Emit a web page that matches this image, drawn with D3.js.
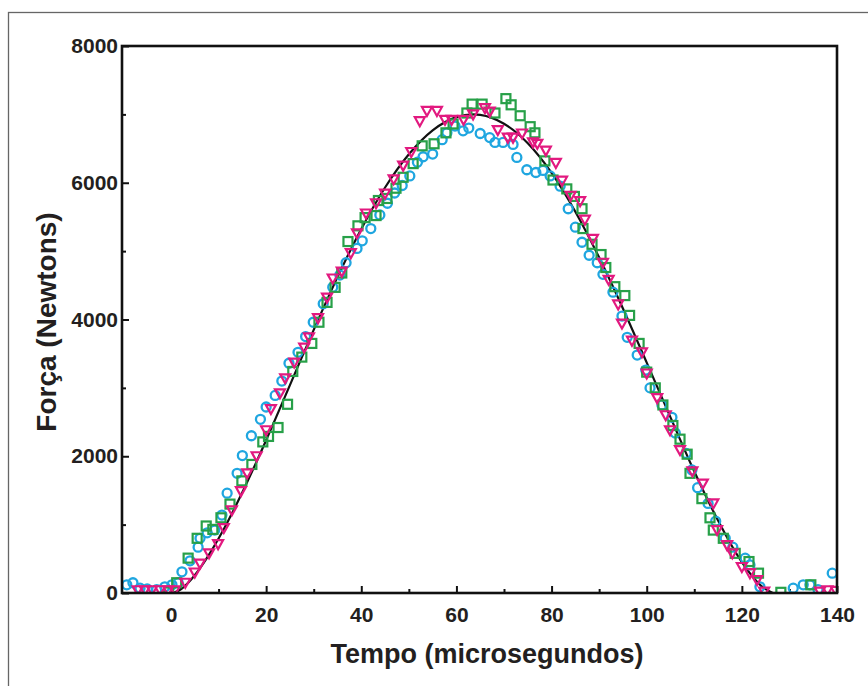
<!DOCTYPE html>
<html>
<head>
<meta charset="utf-8">
<script src="https://cdn.jsdelivr.net/npm/d3@7"></script>
<style>
  body { margin: 0; background: #fff; }
  svg text { font-family: "Liberation Sans", Arial, sans-serif; font-weight: bold; fill: #231f20; }
</style>
</head>
<body>
<svg id="chart"></svg>
<script>
// tick values
const xMajorTicks = [0, 20, 40, 60, 80, 100, 120, 140];
const xMinorTicks = [10, 30, 50, 70, 90, 110, 130];
const yMajorTicks = [0, 2000, 4000, 6000, 8000];
const yMinorTicks = [1000, 3000, 5000, 7000];

// circles (cyan) - [tempo, força]
const seriesCircles = [
  [-9.3, 120], [-8, 150], [-6.5, 70], [-5, 60], [-3, 50], [-1.3, 90], [0.2, 120], [1.5, 150],
  [2.3, 310], [4, 470], [5.7, 670], [6.1, 800], [7.6, 880], [9.2, 920], [10.7, 1140], [11.8, 1460],
  [13.9, 1750], [15, 2010], [16.9, 2300], [18.8, 2540], [20, 2720], [21.9, 2890], [23.3, 3100],
  [24.8, 3360], [26.7, 3520], [28.3, 3750], [29.9, 3960], [32, 4230], [34, 4470], [35.5, 4650],
  [36.8, 4830], [39.1, 5040], [40.2, 5150], [42, 5330], [43.9, 5530], [45.5, 5700], [47, 5850],
  [48.6, 5960], [50.2, 6100], [51.8, 6300], [53, 6380], [55, 6420], [57, 6630], [58, 6730],
  [59.7, 6830], [61.4, 6760], [62.6, 6800], [65, 6720], [67, 6660], [68.1, 6590], [69.8, 6590],
  [71.9, 6560], [72.7, 6370], [74.8, 6190], [76.7, 6150], [78.2, 6180], [79.7, 6100], [81.8, 5950],
  [83.5, 5620], [85, 5350], [86.4, 5130], [87.9, 4940], [89.6, 4830], [90.8, 4660], [92.9, 4400],
  [94.8, 4050], [95.9, 3740], [98, 3480], [99.8, 3260], [100.7, 3000], [103.2, 2750], [105.3, 2570],
  [106, 2340], [108.3, 2040], [109.5, 1800], [110.7, 1540], [112.9, 1310], [114.5, 1050],
  [116.5, 800], [118.1, 670], [120.7, 510], [121.7, 410], [123.8, 90], [130.8, 70], [132.9, 120],
  [134.3, 120], [136, 50], [139, 290]
];

// squares (green)
const seriesSquares = [
  [-0.5, 15], [1.2, 150], [3.6, 510], [5.5, 800], [7.4, 980], [8.8, 930], [10.5, 1100], [12.4, 1300],
  [14.9, 1640], [17, 1880], [19.3, 2210], [20.5, 2290], [22.5, 2420], [24.5, 2760], [25.6, 3240],
  [27.5, 3450], [29.6, 3650], [31.1, 3960], [32.8, 4250], [34.5, 4470], [35.9, 4680], [37.2, 5140],
  [39.3, 5370], [40.8, 5490], [43.1, 5520], [43.6, 5740], [45.4, 5770], [47.3, 5920], [48.8, 6080],
  [50.9, 6280], [52.8, 6540], [55.3, 6570], [57.8, 6730], [59.3, 6860], [62.2, 7020], [63.3, 7150],
  [65.4, 7150], [68.1, 7020], [70.4, 7230], [71.5, 7140], [73.4, 6980], [75.5, 6820], [76.5, 6730],
  [78.6, 6320], [80.3, 6040], [83.2, 5910], [84.8, 5800], [86.4, 5620], [86.6, 5330], [88.5, 5100],
  [90.4, 4950], [91.4, 4760], [93.3, 4480], [95.4, 4350], [96.4, 4060], [98.4, 3650], [100, 3230],
  [101.8, 3000], [103.4, 2750], [105.5, 2450], [107, 2250], [108.5, 2030], [109.1, 1750],
  [111.6, 1380], [113.3, 1100], [114, 920], [116.1, 800], [118.6, 580], [121.5, 460], [123.5, 290],
  [128.2, 10], [134.5, 120]
];

// triangles (magenta)
const seriesTriangles = [
  [-7, 40], [-5.5, 40], [-4, 40], [-2.3, 40], [-0.6, 40], [0.8, 40], [3, 150], [5, 300], [6.1, 430],
  [8, 580], [9.9, 715], [11.1, 950], [12.8, 1210], [14.7, 1490], [16, 1750], [18, 2000], [20, 2380],
  [21, 2690], [22.9, 2920], [24, 3140], [25.9, 3370], [28, 3590], [29, 3740], [30.9, 4020],
  [32.8, 4320], [34, 4600], [35.9, 4700], [37.8, 4970], [39.1, 5260], [41, 5550], [43.1, 5700],
  [45, 5840], [46.8, 6050], [48.8, 6250], [50.5, 6450], [52.3, 6900], [53.8, 7050], [55.9, 7050],
  [57.6, 6920], [59, 6920], [61.5, 6920], [63.5, 7000], [66, 7090], [67, 7040], [68.7, 6770],
  [70.8, 6660], [71.9, 6660], [73.8, 6720], [76.1, 6590], [77, 6570], [78.8, 6470], [80.9, 6290],
  [82.2, 6030], [84, 5810], [86, 5730], [87, 5460], [88.7, 5180], [90.8, 4830], [92, 4580],
  [94, 4220], [94.8, 3940], [96.9, 3690], [99, 3520], [100, 3210], [102.2, 2850], [104, 2600],
  [104.9, 2380], [107, 2090], [109.6, 1780], [111.8, 1600], [114, 1310], [114.8, 920], [116.9, 700],
  [118, 580], [120, 380], [121.7, 290], [123.2, 190], [124.7, 20], [136.4, 20], [138, 40], [139.8, 30]
];

// fitted curve (black)
const curveTempo = [0.5, 2, 4, 6, 8, 10, 12, 15, 20, 25, 30, 35, 40, 45, 50, 55, 60, 63.5, 65, 70,
  75, 80, 85, 90, 95, 100, 105, 110, 115, 118, 120, 122, 124, 126.5];
const curveForca = [0, 51, 180, 354, 561, 796, 1053, 1473, 2235, 3041, 3849, 4620, 5325, 5931, 6417,
  6767, 6960, 7000, 6993, 6863, 6578, 6145, 5577, 4907, 4162, 3370, 2568, 1777, 1059, 676, 451, 261,
  108, 0];

const W = 868, H = 686;
const margin = {top: 46, right: 31, bottom: 93, left: 122};
const width = W - margin.left - margin.right;
const height = H - margin.top - margin.bottom;

const svg = d3.select('#chart').attr('width', W).attr('height', H);

// outer frame (goes off the page on right and bottom)
svg.append('rect')
  .attr('x', 8.5).attr('y', 12.5)
  .attr('width', 1000).attr('height', 1000)
  .attr('fill', 'none').attr('stroke', '#666').attr('stroke-width', 1.3);

const chart = svg.append('g').attr('transform', `translate(${margin.left},${margin.top})`);

const x = d3.scaleLinear().domain([-10.3, 140]).range([0, width]);
const y = d3.scaleLinear().domain([0, 8000]).range([height, 0]);

// clip so markers don't spill past the frame
chart.append('clipPath').attr('id', 'clip')
  .append('rect').attr('x', 0).attr('y', -10).attr('width', width).attr('height', height + 10);

// axes, ticks pointing inward
const xAxis = chart.append('g').attr('transform', `translate(0,${height})`)
  .call(d3.axisBottom(x).tickValues(xMajorTicks).tickSize(-7).tickPadding(14));
const xMinor = chart.append('g').attr('transform', `translate(0,${height})`)
  .call(d3.axisBottom(x).tickValues(xMinorTicks).tickSize(-4).tickFormat(''));
const yAxis = chart.append('g')
  .call(d3.axisLeft(y).tickValues(yMajorTicks).tickSize(-7).tickPadding(4).tickFormat(d3.format('d')));
const yMinor = chart.append('g')
  .call(d3.axisLeft(y).tickValues(yMinorTicks).tickSize(-4).tickFormat(''));

[xAxis, xMinor, yAxis, yMinor].forEach(g => {
  g.select('.domain').remove();
  g.selectAll('line').attr('stroke', '#111').attr('stroke-width', 2);
  g.selectAll('text').attr('font-size', 21).attr('fill', '#231f20')
    .style('font-family', '"Liberation Sans", Arial, sans-serif').style('font-weight', 'bold');
});

const marks = chart.append('g').attr('clip-path', 'url(#clip)');

// curve
const line = d3.line().x((d, i) => x(curveTempo[i])).y(d => y(d)).curve(d3.curveMonotoneX);
marks.append('path')
  .datum(curveForca)
  .attr('d', line)
  .attr('fill', 'none').attr('stroke', '#111').attr('stroke-width', 2.2);

// cyan circles
marks.selectAll('circle.c')
  .data(seriesCircles)
  .enter().append('circle')
    .attr('class', 'c')
    .attr('cx', d => x(d[0]))
    .attr('cy', d => y(d[1]))
    .attr('r', 4.5)
    .attr('fill', 'none').attr('stroke', '#1fa6e0').attr('stroke-width', 2.3);

// green squares
marks.selectAll('rect.s')
  .data(seriesSquares)
  .enter().append('rect')
    .attr('class', 's')
    .attr('x', d => x(d[0]) - 4.5)
    .attr('y', d => y(d[1]) - 4.5)
    .attr('width', 9).attr('height', 9)
    .attr('fill', 'none').attr('stroke', '#27a048').attr('stroke-width', 2.2);

// magenta triangles (pointing down)
const tri = 'M-5,-4L5,-4L0,5Z';
marks.selectAll('path.t')
  .data(seriesTriangles)
  .enter().append('path')
    .attr('class', 't')
    .attr('d', tri)
    .attr('transform', d => `translate(${x(d[0])},${y(d[1])})`)
    .attr('fill', 'none').attr('stroke', '#e2197f').attr('stroke-width', 2.2);

// plot frame
chart.append('rect')
  .attr('width', width).attr('height', height)
  .attr('fill', 'none').attr('stroke', '#111').attr('stroke-width', 2.6);

// axis titles
svg.append('text')
  .attr('x', 487).attr('y', 663)
  .attr('text-anchor', 'middle').attr('font-size', 27)
  .text('Tempo (microsegundos)');

svg.append('text')
  .attr('transform', 'translate(56,322) rotate(-90)')
  .attr('text-anchor', 'middle').attr('font-size', 28)
  .text('Força (Newtons)');
</script>
</body>
</html>
